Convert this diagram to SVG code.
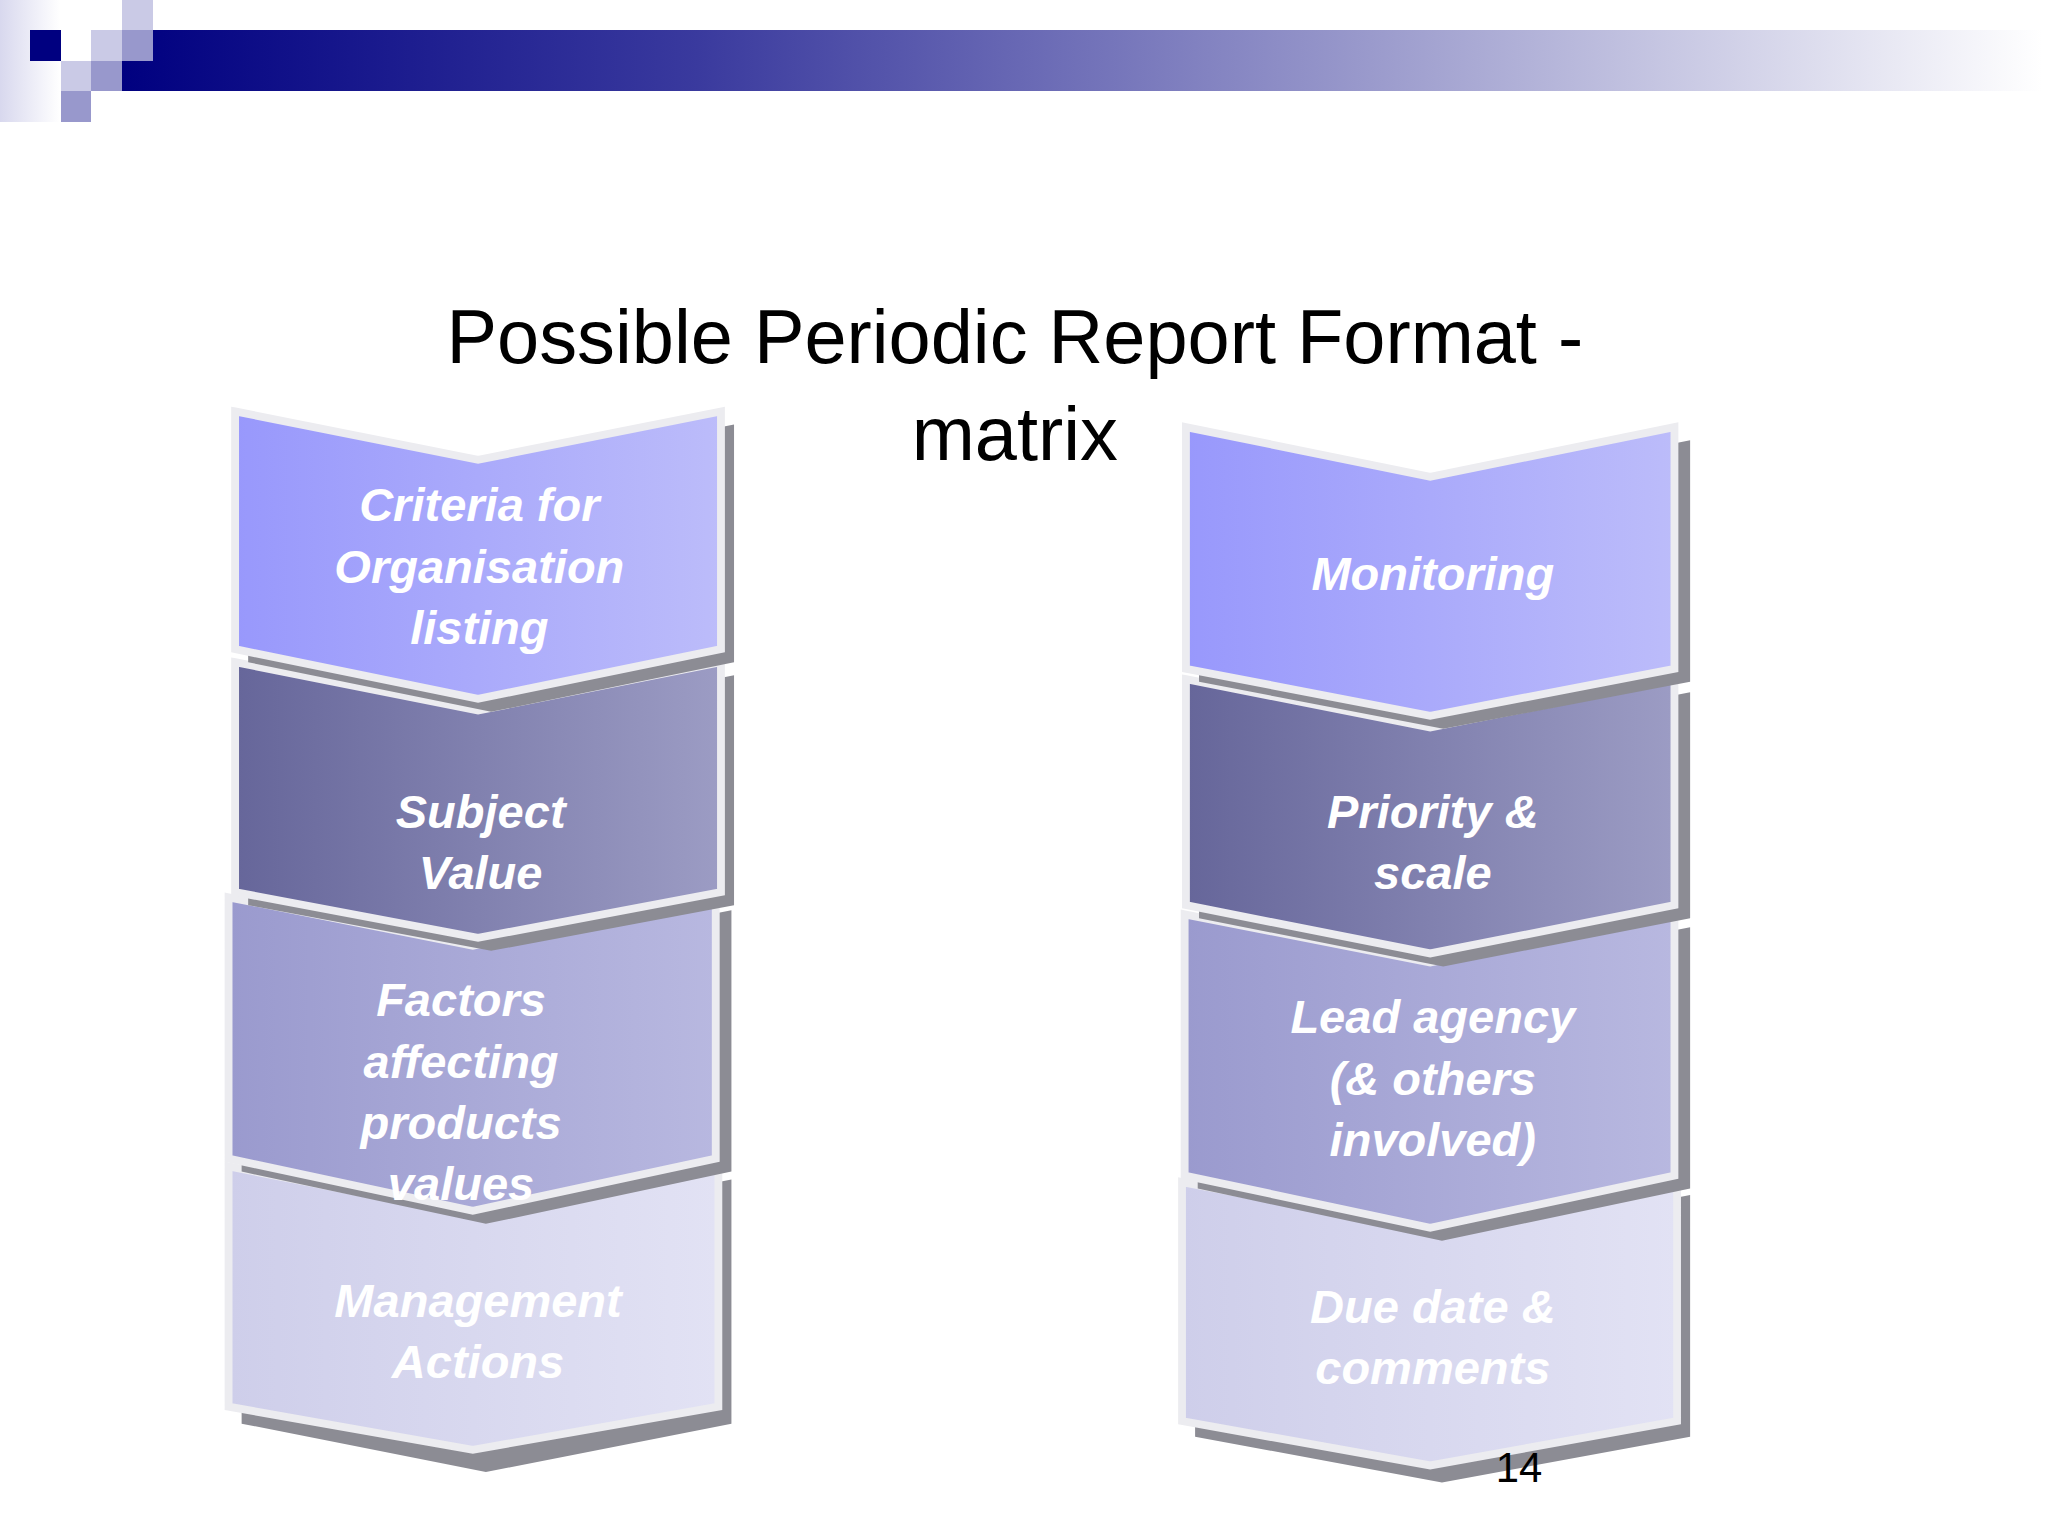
<svg xmlns="http://www.w3.org/2000/svg" width="2048" height="1536" viewBox="0 0 2048 1536">
<defs>
<linearGradient id="bar" x1="0" x2="1" y1="0" y2="0"><stop offset="0" stop-color="#000080"/><stop offset="0.3" stop-color="#3a3a9e"/><stop offset="0.65" stop-color="#9a9acc"/><stop offset="1" stop-color="#ffffff"/></linearGradient>
<linearGradient id="lf" x1="0" x2="1"><stop offset="0" stop-color="#d8d8ee"/><stop offset="1" stop-color="#ffffff"/></linearGradient>
<linearGradient id="g1" x1="0" x2="1"><stop offset="0" stop-color="#9898fc"/><stop offset="1" stop-color="#bcbcfa"/></linearGradient>
<linearGradient id="g2" x1="0" x2="1"><stop offset="0" stop-color="#66669a"/><stop offset="1" stop-color="#9c9cc4"/></linearGradient>
<linearGradient id="g3" x1="0" x2="1"><stop offset="0" stop-color="#9a9ace"/><stop offset="1" stop-color="#b8b8e0"/></linearGradient>
<linearGradient id="g4" x1="0" x2="1"><stop offset="0" stop-color="#ceceea"/><stop offset="1" stop-color="#e2e2f4"/></linearGradient>
</defs>
<style>
.c{stroke:#ececf0;stroke-width:6;stroke-linejoin:miter}
.sh{fill:#8c8c94}
.t{font-family:"Liberation Sans",Arial,sans-serif;font-weight:bold;font-style:italic;font-size:36px;fill:#ffffff;text-anchor:middle}
.ti{font-family:"Liberation Sans",Arial,sans-serif;font-size:58px;fill:#000;text-anchor:middle}
</style>
<rect width="2048" height="1536" fill="#fff"/>
<g id="header">
<rect x="0" y="0" width="60" height="122" fill="url(#lf)"/>
<rect x="122" y="30" width="1920" height="61" fill="url(#bar)"/>
<rect x="30" y="30" width="31" height="31" fill="#000080"/>
<rect x="122" y="0" width="31" height="30" fill="#cacae6"/>
<rect x="122" y="30" width="31" height="31" fill="#9898cc"/>
<rect x="91" y="30" width="31" height="31" fill="#cacae6"/>
<rect x="61" y="61" width="30" height="30" fill="#cacae6"/>
<rect x="91" y="61" width="31" height="30" fill="#9898cc"/>
<rect x="61" y="91" width="30" height="31" fill="#9898cc"/>
</g>
<g transform="scale(1.30612)">
<text class="ti" x="777" y="278">Possible Periodic Report Format -</text>
<text class="ti" x="777" y="352">matrix</text>
<g id="left">
<g id="L4"><polygon class="sh" points="185,903 372,940 560,903 560,1090 372,1127 185,1090"/><polygon class="c" fill="url(#g4)" points="175,893 362,930 550,893 550,1077 362,1110 175,1077"/><text class="t" x="366" y="1008">Management</text><text class="t" x="366" y="1055">Actions</text></g>
<g id="L3"><polygon class="sh" points="185,697 372,734 560,697 560,897 372,937 185,897"/><polygon class="c" fill="url(#g3)" points="175,687 362,724 548,687 548,887 362,927 175,887"/><text class="t" x="353" y="778">Factors</text><text class="t" x="353" y="825">affecting</text><text class="t" x="353" y="872">products</text><text class="t" x="353" y="919">values</text></g>
<g id="L2"><polygon class="sh" points="190,517 376,554 562,517 562,693 376,728 190,693"/><polygon class="c" fill="url(#g2)" points="180,507 366,544 552,507 552,683 366,718 180,683"/><text class="t" x="368" y="634">Subject</text><text class="t" x="368" y="681">Value</text></g>
<g id="L1"><polygon class="sh" points="190,325 376,362 562,325 562,507 376,545 190,507"/><polygon class="c" fill="url(#g1)" points="180,315 366,352 552,315 552,497 366,535 180,497"/><text class="t" x="367" y="399">Criteria for</text><text class="t" x="367" y="446">Organisation</text><text class="t" x="367" y="493">listing</text></g>
</g>
<g id="right">
<g id="R4"><polygon class="sh" points="915,915 1104,952 1294,915 1294,1100 1104,1135 915,1100"/><polygon class="c" fill="url(#g4)" points="905,905 1095,942 1284,905 1284,1088 1095,1122 905,1088"/><text class="t" x="1097" y="1013">Due date &amp;</text><text class="t" x="1097" y="1060">comments</text></g>
<text font-family="Liberation Sans,Arial,sans-serif" font-size="32" x="1163" y="1135" text-anchor="middle" fill="#000">14</text>
<g id="R3"><polygon class="sh" points="917,710 1104,747 1294,710 1294,910 1104,950 917,910"/><polygon class="c" fill="url(#g3)" points="907,700 1095,737 1282,700 1282,900 1095,940 907,900"/><text class="t" x="1097" y="791">Lead agency</text><text class="t" x="1097" y="838">(&amp; others</text><text class="t" x="1097" y="885">involved)</text></g>
<g id="R2"><polygon class="sh" points="918,530 1105,567 1294,530 1294,703 1105,740 918,703"/><polygon class="c" fill="url(#g2)" points="908,520 1095,557 1282,520 1282,693 1095,730 908,693"/><text class="t" x="1097" y="634">Priority &amp;</text><text class="t" x="1097" y="681">scale</text></g>
<g id="R1"><polygon class="sh" points="918,337 1105,375 1294,337 1294,522 1105,558 918,522"/><polygon class="c" fill="url(#g1)" points="908,327 1095,365 1282,327 1282,512 1095,548 908,512"/><text class="t" x="1097" y="452">Monitoring</text></g>
</g>
</g>
<g id="connectors"/>
</svg>
